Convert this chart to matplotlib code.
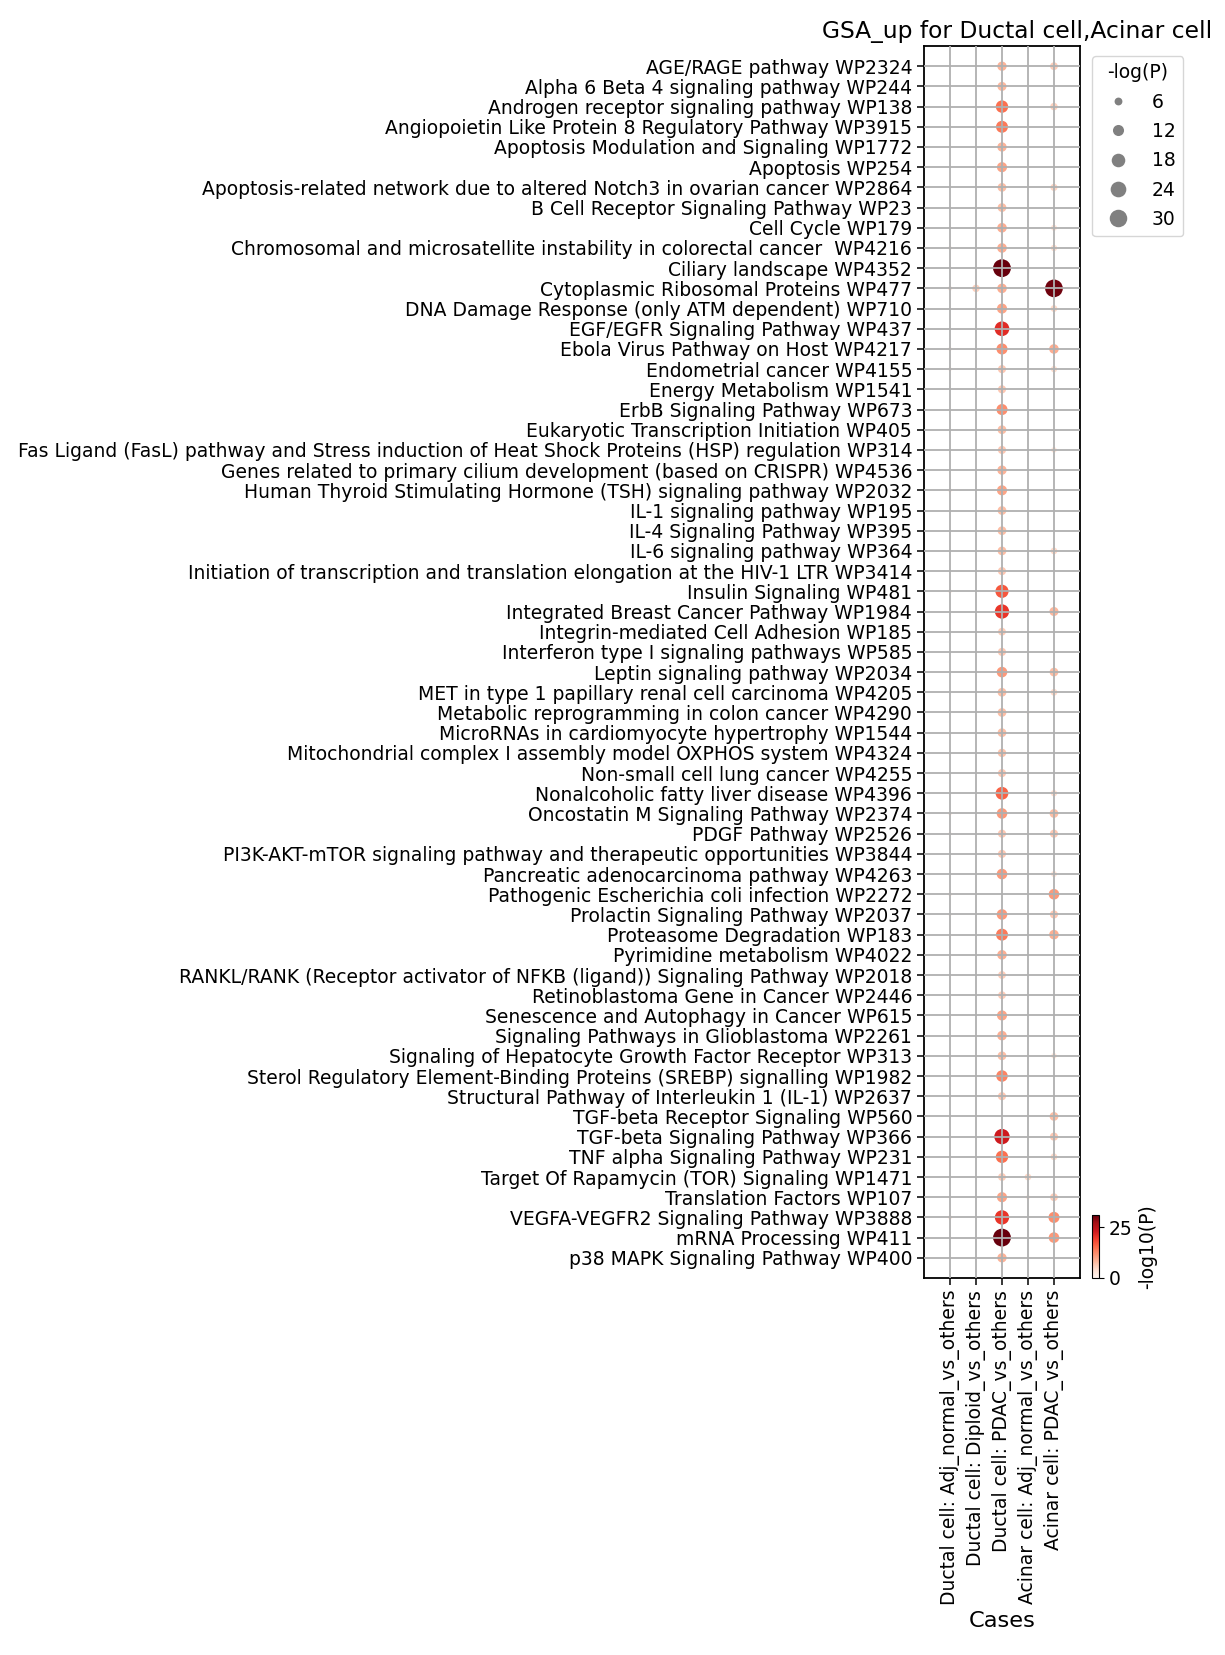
import numpy as np
import matplotlib.pyplot as plt
from matplotlib.lines import Line2D

plt.rcParams['font.size'] = 13.5

pathways = [
    "AGE/RAGE pathway WP2324",
    "Alpha 6 Beta 4 signaling pathway WP244",
    "Androgen receptor signaling pathway WP138",
    "Angiopoietin Like Protein 8 Regulatory Pathway WP3915",
    "Apoptosis Modulation and Signaling WP1772",
    "Apoptosis WP254",
    "Apoptosis-related network due to altered Notch3 in ovarian cancer WP2864",
    "B Cell Receptor Signaling Pathway WP23",
    "Cell Cycle WP179",
    "Chromosomal and microsatellite instability in colorectal cancer  WP4216",
    "Ciliary landscape WP4352",
    "Cytoplasmic Ribosomal Proteins WP477",
    "DNA Damage Response (only ATM dependent) WP710",
    "EGF/EGFR Signaling Pathway WP437",
    "Ebola Virus Pathway on Host WP4217",
    "Endometrial cancer WP4155",
    "Energy Metabolism WP1541",
    "ErbB Signaling Pathway WP673",
    "Eukaryotic Transcription Initiation WP405",
    "Fas Ligand (FasL) pathway and Stress induction of Heat Shock Proteins (HSP) regulation WP314",
    "Genes related to primary cilium development (based on CRISPR) WP4536",
    "Human Thyroid Stimulating Hormone (TSH) signaling pathway WP2032",
    "IL-1 signaling pathway WP195",
    "IL-4 Signaling Pathway WP395",
    "IL-6 signaling pathway WP364",
    "Initiation of transcription and translation elongation at the HIV-1 LTR WP3414",
    "Insulin Signaling WP481",
    "Integrated Breast Cancer Pathway WP1984",
    "Integrin-mediated Cell Adhesion WP185",
    "Interferon type I signaling pathways WP585",
    "Leptin signaling pathway WP2034",
    "MET in type 1 papillary renal cell carcinoma WP4205",
    "Metabolic reprogramming in colon cancer WP4290",
    "MicroRNAs in cardiomyocyte hypertrophy WP1544",
    "Mitochondrial complex I assembly model OXPHOS system WP4324",
    "Non-small cell lung cancer WP4255",
    "Nonalcoholic fatty liver disease WP4396",
    "Oncostatin M Signaling Pathway WP2374",
    "PDGF Pathway WP2526",
    "PI3K-AKT-mTOR signaling pathway and therapeutic opportunities WP3844",
    "Pancreatic adenocarcinoma pathway WP4263",
    "Pathogenic Escherichia coli infection WP2272",
    "Prolactin Signaling Pathway WP2037",
    "Proteasome Degradation WP183",
    "Pyrimidine metabolism WP4022",
    "RANKL/RANK (Receptor activator of NFKB (ligand)) Signaling Pathway WP2018",
    "Retinoblastoma Gene in Cancer WP2446",
    "Senescence and Autophagy in Cancer WP615",
    "Signaling Pathways in Glioblastoma WP2261",
    "Signaling of Hepatocyte Growth Factor Receptor WP313",
    "Sterol Regulatory Element-Binding Proteins (SREBP) signalling WP1982",
    "Structural Pathway of Interleukin 1 (IL-1) WP2637",
    "TGF-beta Receptor Signaling WP560",
    "TGF-beta Signaling Pathway WP366",
    "TNF alpha Signaling Pathway WP231",
    "Target Of Rapamycin (TOR) Signaling WP1471",
    "Translation Factors WP107",
    "VEGFA-VEGFR2 Signaling Pathway WP3888",
    "mRNA Processing WP411",
    "p38 MAPK Signaling Pathway WP400",
]

cases = [
    "Ductal cell: Adj_normal_vs_others",
    "Ductal cell: Diploid_vs_others",
    "Ductal cell: PDAC_vs_others",
    "Acinar cell: Adj_normal_vs_others",
    "Acinar cell: PDAC_vs_others",
]

# -log10(P) per case, one value per pathway (0 = not significant)
ductal_adj = [0, 0, 0, 0, 0, 0, 0, 0, 0, 1.5, 0, 2, 0, 0, 1.5, 1.5, 0, 0, 0, 0,
              0, 1.5, 0, 0, 0, 0, 1.5, 0, 0, 0, 0, 0, 0, 0, 0, 0, 0, 1.5, 1.2, 0,
              0, 1.5, 1.2, 0, 0, 0, 0, 0, 0, 0, 0, 0, 0, 0, 0, 0, 0, 1.8, 0, 0]
ductal_diploid = [0, 0, 0, 0, 0, 0, 0, 0, 0, 0, 0, 5.5, 0, 0, 0, 0, 0, 0, 0, 0,
                  0, 0, 0, 0, 0, 0, 0, 0, 0, 0, 0, 0, 0, 0, 0, 0, 0, 0, 0, 0,
                  0, 0, 0, 0, 0, 0, 0, 0, 0, 0, 0, 0, 0, 0, 0, 0, 0, 0, 0, 0]
ductal_pdac = [8.5, 8, 15, 14, 8.5, 10, 7.5, 7.5, 9, 9, 31, 9, 10, 21, 12, 6.5, 6.5, 12, 7.5, 6.5,
               8.5, 10, 7.5, 7.5, 7.5, 6.5, 17, 20, 6, 6.5, 11, 7.5, 7.5, 7.5, 7, 6.5, 16, 11, 6.5, 6.5,
               11, 0, 11, 14, 9, 6, 6, 10, 9, 7.5, 13, 6.5, 0, 23, 15, 6, 10, 20, 31, 8.5]
acinar_adj = [0, 0, 0, 0, 0, 0, 0, 0, 0, 0, 0, 0, 0, 0, 0, 0, 0, 0, 0, 0,
              0, 0, 0, 0, 0, 0, 0, 0, 0, 0, 0, 0, 1.2, 0, 0, 0, 0, 0, 0, 0,
              0, 0, 0, 0, 0, 0, 0, 0, 0, 0, 0, 0, 0, 0, 0, 4.5, 1.8, 0, 0, 0]
acinar_pdac = [6, 0, 5.5, 0, 0, 0, 5, 0, 3.5, 4, 0, 30.5, 4.5, 0, 9, 4, 0, 0, 0, 3,
               0, 0, 0, 0, 4.5, 0, 0, 8, 0, 0, 7.5, 4.5, 0, 0, 0, 0, 4, 7.5, 6.5, 0,
               3.5, 11, 6.5, 9, 0, 0, 0, 0, 0, 3, 0, 0, 7.5, 6.5, 4.5, 0, 6, 12, 11, 0]

size_legend = [6, 12, 18, 24, 30]

cols = [ductal_adj, ductal_diploid, ductal_pdac, acinar_adj, acinar_pdac]
xs, ys, vals = [], [], []
for j, col in enumerate(cols):
    for i, v in enumerate(col):
        if v > 0:
            xs.append(j)
            ys.append(i)
            vals.append(v)
vals = np.array(vals)

fig = plt.figure(figsize=(12.25, 16.55), dpi=100)
ax = fig.add_axes([0.7543, 0.2278, 0.1273, 0.7444])

sc = ax.scatter(xs, ys, s=vals * 5.3, c=vals, cmap='Reds', vmin=0, vmax=31,
                linewidths=0, zorder=1)

ax.set_xlim(-1, 5)
ax.set_ylim(60, -1)
ax.set_xticks(range(len(cases)))
ax.set_xticklabels(cases, rotation=90)
ax.set_yticks(range(len(pathways)))
ax.set_yticklabels(pathways)
ax.set_axisbelow(False)
ax.grid(True, color='#b0b0b0', linewidth=1.3)
ax.tick_params(length=5, width=1.1)
for sp in ax.spines.values():
    sp.set_linewidth(1.3)
ax.set_xlabel('Cases', fontsize=16.2)
ax.set_title('GSA_up for Ductal cell,Acinar cell', x=0.6, fontsize=16.8)

handles = [Line2D([], [], marker='o', ls='', color='gray', markeredgewidth=0,
                  markersize=np.sqrt(5.3 * v)) for v in size_legend]
ax.legend(handles, [str(v) for v in size_legend], title='-log(P)',
          loc='upper left', bbox_to_anchor=(1.077, 0.992), borderaxespad=0,
          labelspacing=0.55)

cax = fig.add_axes([0.8914, 0.2278, 0.0057, 0.038])
cb = fig.colorbar(sc, cax=cax, ticks=[0, 25])
cb.set_label('-log10(P)')

plt.savefig('out.png')
